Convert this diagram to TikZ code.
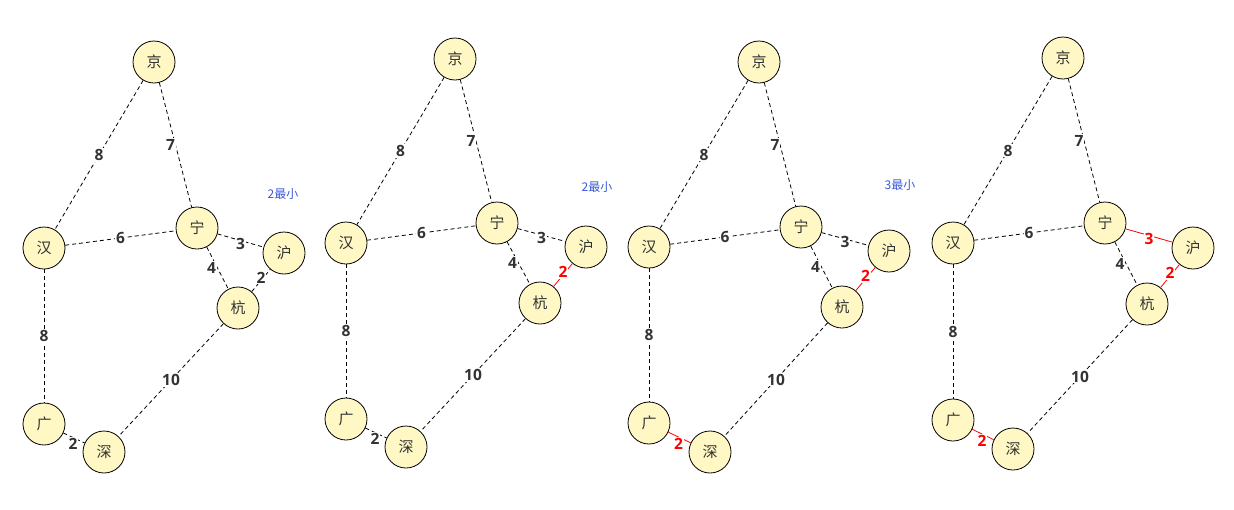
\documentclass[tikz,border=0pt]{standalone}
\usepackage{fontspec}
\setmainfont{Open Sans}
\newfontfamily\cjk{Noto Sans CJK SC}
\definecolor{nodefill}{HTML}{FFF8C4}
\definecolor{txt}{HTML}{333333}
\definecolor{note}{HTML}{3B5BDB}
\definecolor{hi}{HTML}{FF0000}
\tikzset{
  city/.style={circle,draw=black,line width=0.8pt,fill=nodefill,minimum size=42pt,inner sep=0pt,font=\cjk\fontsize{15}{15}\selectfont,text=txt},
  road/.style={draw=black,line width=0.8pt,dash pattern=on 4pt off 3pt},
  redroad/.style={draw=hi,line width=0.8pt},
  wt/.style={midway,fill=white,inner sep=1pt,font=\bfseries\fontsize{15.5}{15.5}\selectfont,text=txt},
  rwt/.style={midway,fill=white,inner sep=1pt,font=\bfseries\fontsize{15.5}{15.5}\selectfont,text=hi},
  remark/.style={font=\cjk\fontsize{12}{12}\selectfont,text=note}
}
\begin{document}
\begin{tikzpicture}[x=1pt,y=-1pt]
\useasboundingbox[fill=white] (0,0) rectangle (1234,509);
% ---------- graph 1 ----------
\node[city] (j1) at (154,62) {京};
\node[city] (h1) at (44,248) {汉};
\node[city] (n1) at (197,228) {宁};
\node[city] (s1) at (284,253) {沪};
\node[city] (k1) at (238,308) {杭};
\node[city] (g1) at (44,424) {广};
\node[city] (z1) at (104,452) {深};
\draw[road] (j1) -- (h1) node[wt] {8};
\draw[road] (j1) -- (n1) node[wt,xshift=-5pt] {7};
\draw[road] (h1) -- (n1) node[wt] {6};
\draw[road] (n1) -- (s1) node[wt,yshift=-3pt] {3};
\draw[road] (n1) -- (k1) node[wt,xshift=-6pt] {4};
\draw[road] (k1) -- (s1) node[wt,yshift=3pt] {2};
\draw[road] (h1) -- (g1) node[wt] {8};
\draw[road] (k1) -- (z1) node[wt] {10};
\draw[road] (g1) -- (z1) node[wt,xshift=-1pt,yshift=-6pt] {2};
\node[remark] (r1) at (283,194) {2最小};
% ---------- graph 2 ----------
\node[city] (j2) at (455,59) {京};
\node[city] (h2) at (346,243) {汉};
\node[city] (n2) at (497,223) {宁};
\node[city] (s2) at (586,247) {沪};
\node[city] (k2) at (540,303) {杭};
\node[city] (g2) at (346,419) {广};
\node[city] (z2) at (406,447) {深};
\draw[road] (j2) -- (h2) node[wt] {8};
\draw[road] (j2) -- (n2) node[wt,xshift=-5pt] {7};
\draw[road] (h2) -- (n2) node[wt] {6};
\draw[road] (n2) -- (s2) node[wt,yshift=-3pt] {3};
\draw[road] (n2) -- (k2) node[wt,xshift=-6pt] {4};
\draw[redroad] (k2) -- (s2) node[rwt,yshift=3pt] {2};
\draw[road] (h2) -- (g2) node[wt] {8};
\draw[road] (k2) -- (z2) node[wt] {10};
\draw[road] (g2) -- (z2) node[wt,xshift=-1pt,yshift=-6pt] {2};
\node[remark] (r2) at (597,187) {2最小};
% ---------- graph 3 ----------
\node[city] (j3) at (759,62) {京};
\node[city] (h3) at (649,247) {汉};
\node[city] (n3) at (801,227) {宁};
\node[city] (s3) at (889,251) {沪};
\node[city] (k3) at (842,307) {杭};
\node[city] (g3) at (649,423) {广};
\node[city] (z3) at (710,452) {深};
\draw[road] (j3) -- (h3) node[wt] {8};
\draw[road] (j3) -- (n3) node[wt,xshift=-5pt] {7};
\draw[road] (h3) -- (n3) node[wt] {6};
\draw[road] (n3) -- (s3) node[wt,yshift=-3pt] {3};
\draw[road] (n3) -- (k3) node[wt,xshift=-6pt] {4};
\draw[redroad] (k3) -- (s3) node[rwt,yshift=3pt] {2};
\draw[road] (h3) -- (g3) node[wt] {8};
\draw[road] (k3) -- (z3) node[wt] {10};
\draw[redroad] (g3) -- (z3) node[rwt,xshift=-1pt,yshift=-6pt] {2};
\node[remark] (r3) at (900,185) {3最小};
% ---------- graph 4 ----------
\node[city] (j4) at (1063,58) {京};
\node[city] (h4) at (953,243) {汉};
\node[city] (n4) at (1105,223) {宁};
\node[city] (s4) at (1193,248) {沪};
\node[city] (k4) at (1147,304) {杭};
\node[city] (g4) at (953,420) {广};
\node[city] (z4) at (1013,449) {深};
\draw[road] (j4) -- (h4) node[wt] {8};
\draw[road] (j4) -- (n4) node[wt,xshift=-5pt] {7};
\draw[road] (h4) -- (n4) node[wt] {6};
\draw[redroad] (n4) -- (s4) node[rwt,yshift=-3pt] {3};
\draw[road] (n4) -- (k4) node[wt,xshift=-6pt] {4};
\draw[redroad] (k4) -- (s4) node[rwt,yshift=3pt] {2};
\draw[road] (h4) -- (g4) node[wt] {8};
\draw[road] (k4) -- (z4) node[wt] {10};
\draw[redroad] (g4) -- (z4) node[rwt,xshift=-1pt,yshift=-6pt] {2};
\end{tikzpicture}
\end{document}
